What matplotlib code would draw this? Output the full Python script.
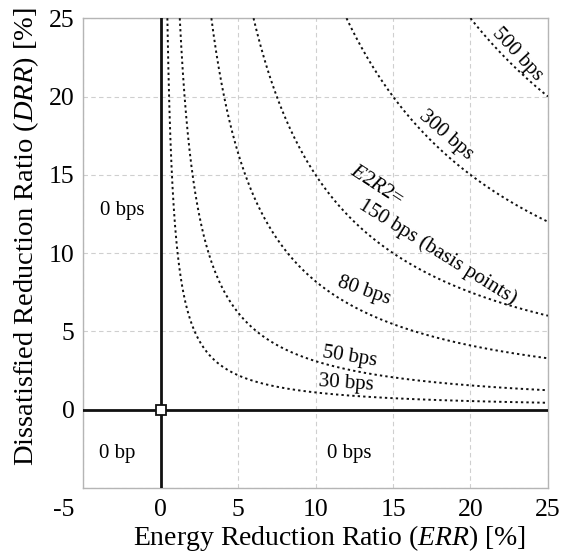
import numpy as np
import matplotlib
matplotlib.use("Agg")
import matplotlib.pyplot as plt
import matplotlib.transforms as mtransforms

plt.rcParams["font.family"] = ["Liberation Serif", "DejaVu Serif"]
plt.rcParams["mathtext.fontset"] = "custom"
plt.rcParams["mathtext.rm"] = "Liberation Serif"
plt.rcParams["mathtext.it"] = "Liberation Serif:italic"
plt.rcParams["axes.unicode_minus"] = False

# iso-E2R2 curves: ERR * DRR = level (levels)
curve_levels = [11, 31, 82, 150, 300, 500]

# curve labels: text, x, y, rotation
label_texts = ["30 bps", "50 bps", "80 bps", "150 bps (basis points)", "300 bps", "500 bps"]
label_x = [12.0, 12.2, 13.1, 17.9, 18.4, 23.0]
label_y = [1.65, 3.4, 7.6, 10.1, 17.5, 22.7]
label_rot = [-4, -9, -19, -32, -41, -47]

# region labels
region_texts = ["0 bps", "0 bp", "0 bps"]
region_x = [-2.5, -2.8, 12.2]
region_y = [12.7, -2.8, -2.8]

ticks = [-5, 0, 5, 10, 15, 20, 25]
lim = (-5, 25)

fig = plt.figure(figsize=(5.69, 5.52), dpi=100)
ax = fig.add_axes([0.146, 0.116, 0.817, 0.851])

ax.set_xlim(*lim)
ax.set_ylim(*lim)
ax.set_xticks(ticks)
ax.set_yticks(ticks)
ax.set_xticklabels([str(t) for t in ticks])
# the corner "-5" is shared: only the x-axis one is shown
ax.set_yticklabels([""] + [str(t) for t in ticks[1:]])
ax.tick_params(length=0, labelsize=18.5)
ax.tick_params(axis="x", pad=8)
ax.tick_params(axis="y", pad=6)
corner = ax.get_xticklabels()[0]
corner.set_transform(corner.get_transform() +
                     mtransforms.ScaledTranslation(-0.19, 0, fig.dpi_scale_trans))

ax.grid(True, color="#cfcfcf", linestyle=(0, (4, 3)), linewidth=0.8)
ax.set_axisbelow(True)
for s in ax.spines.values():
    s.set_color("#b5b5b5")
    s.set_linewidth(1.0)

# main axes lines
ax.axhline(0, color="#111111", lw=2.0, zorder=3)
ax.axvline(0, color="#111111", lw=2.0, zorder=3)
ax.plot([0], [0], marker="s", ms=7, mfc="white", mec="#111111", mew=1.3, zorder=5)

for k in curve_levels:
    x = np.geomspace(k / lim[1], lim[1], 400)
    ax.plot(x, k / x, color="#111111", lw=1.4, linestyle=(0, (1.2, 1.6)), zorder=4)

for t, x, y, r in zip(label_texts, label_x, label_y, label_rot):
    ax.text(x, y, t, fontsize=15, rotation=r, rotation_mode="anchor",
            ha="center", va="center", zorder=6)
ax.text(13.9, 14.3, r"$\mathit{E2R2}$=", fontsize=15, rotation=-33,
        rotation_mode="anchor", ha="center", va="center", zorder=6)

for t, x, y in zip(region_texts, region_x, region_y):
    ax.text(x, y, t, fontsize=15, ha="center", va="center")

ax.set_xlabel(r"Energy Reduction Ratio ($\mathit{ERR}$) [%]", fontsize=20)
ax.set_ylabel(r"Dissatisfied Reduction Ratio ($\mathit{DRR}$) [%]", fontsize=20.5)
ax.xaxis.set_label_coords(0.531, -0.075)
ax.yaxis.set_label_coords(-0.09, 0.536)

fig.savefig("out.png", dpi=100)
